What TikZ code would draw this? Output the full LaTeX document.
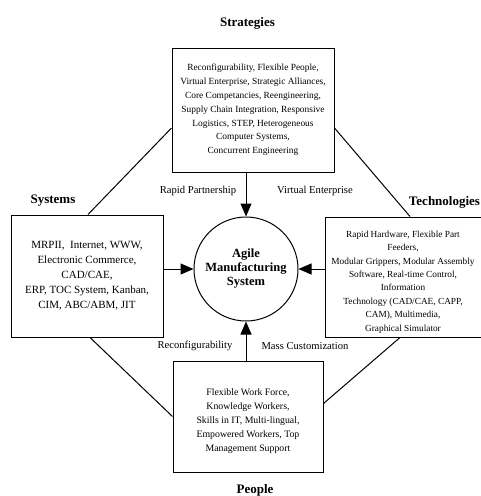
\documentclass[tikz,border=0pt]{standalone}
\usepackage{fontspec}
\setmainfont{Liberation Serif}
\usetikzlibrary{arrows.meta}
\begin{document}
\begin{tikzpicture}[x=1pt, y=-1pt, line width=1pt,
  factorbox/.style={draw, rectangle, align=center, inner sep=2pt},
  heading/.style={font=\fontsize{13}{15}\selectfont\bfseries},
  flowlabel/.style={font=\fontsize{10.6}{12}\selectfont},
  bigarrow/.style={-{Triangle[length=13pt, width=11pt]}}]

  \useasboundingbox (0,0) rectangle (481,496);

  % -- Central system --
  \node[draw, circle, minimum size=104pt, inner sep=0pt, align=center,
    font=\fontsize{12.5}{14}\selectfont\bfseries] (ams) at (246,269)
    {Agile\\Manufacturing\\System};

  % -- Strategies (top) --
  \node[factorbox, minimum width=162pt, minimum height=124pt,
    font=\fontsize{9.4}{13.8}\selectfont] (strat) at (253,110)
    {Reconfigurability, Flexible People,\\Virtual Enterprise, Strategic Alliances,\\
     Core Competancies, Reengineering,\\Supply Chain Integration, Responsive\\
     Logistics, STEP, Heterogeneous\\Computer Systems,\\Concurrent Engineering};
  \node[heading] (strattitle) at (247.5,23) {Strategies};

  % -- Systems (left) --
  \node[factorbox, minimum width=152pt, minimum height=122pt,
    font=\fontsize{11}{15}\selectfont] (sys) at (87,276)
    {MRPII,\ \ Internet, WWW,\\Electronic Commerce,\\CAD/CAE,\\
     ERP, TOC System, Kanban,\\CIM, ABC/ABM, JIT};
  \node[heading] (systitle) at (53,201) {Systems};

  % -- Technologies (right) --
  \node[factorbox, minimum width=156pt, minimum height=120pt,
    font=\fontsize{9.3}{13.4}\selectfont] (tech) at (403,277)
    {\rule{0pt}{16.5pt}Rapid Hardware, Flexible Part\\Feeders,\\Modular Grippers, Modular Assembly\\
     Software, Real-time Control,\\Information\\Technology (CAD/CAE, CAPP,\\
     CAM), Multimedia,\\Graphical Simulator};
  \node[heading, anchor=east, inner sep=0pt] (techtitle) at (480.5,202) {Technologies};

  % -- People (bottom) --
  \node[factorbox, minimum width=150pt, minimum height=111pt,
    font=\fontsize{9.8}{14}\selectfont] (people) at (248,416.5)
    {\rule{0pt}{16pt}Flexible Work Force,\\Knowledge Workers,\\Skills in IT, Multi-lingual,\\
     Empowered Workers, Top\\Management Support};
  \node[heading] (peopletitle) at (255,490) {People};

  % -- Arrows into the system --
  \draw[bigarrow] (strat.south -| ams.north) -- (ams.north);
  \draw[bigarrow] (people.north -| ams.south) -- (ams.south);
  \draw[bigarrow] (sys.east |- ams.west) -- (ams.west);
  \draw[bigarrow] (tech.west |- ams.east) -- (ams.east);

  % -- Outer ring --
  \draw ([yshift=-18pt]strat.west) -- ([xshift=1pt]sys.north);
  \draw ([yshift=-18pt]strat.east) -- ([xshift=7pt]tech.north);
  \draw ([xshift=3pt]sys.south) -- (people.west);
  \draw ([yshift=13pt]people.east) -- ([xshift=-3pt]tech.south);

  % -- Link labels --
  \node[flowlabel, anchor=east] (rp) at (240,191) {Rapid Partnership};
  \node[flowlabel] (ve) at (315,191) {Virtual Enterprise};
  \node[flowlabel] (rc) at (195,346) {Reconfigurability};
  \node[flowlabel] (mc) at (305,346) {Mass Customization};

\end{tikzpicture}
\end{document}
